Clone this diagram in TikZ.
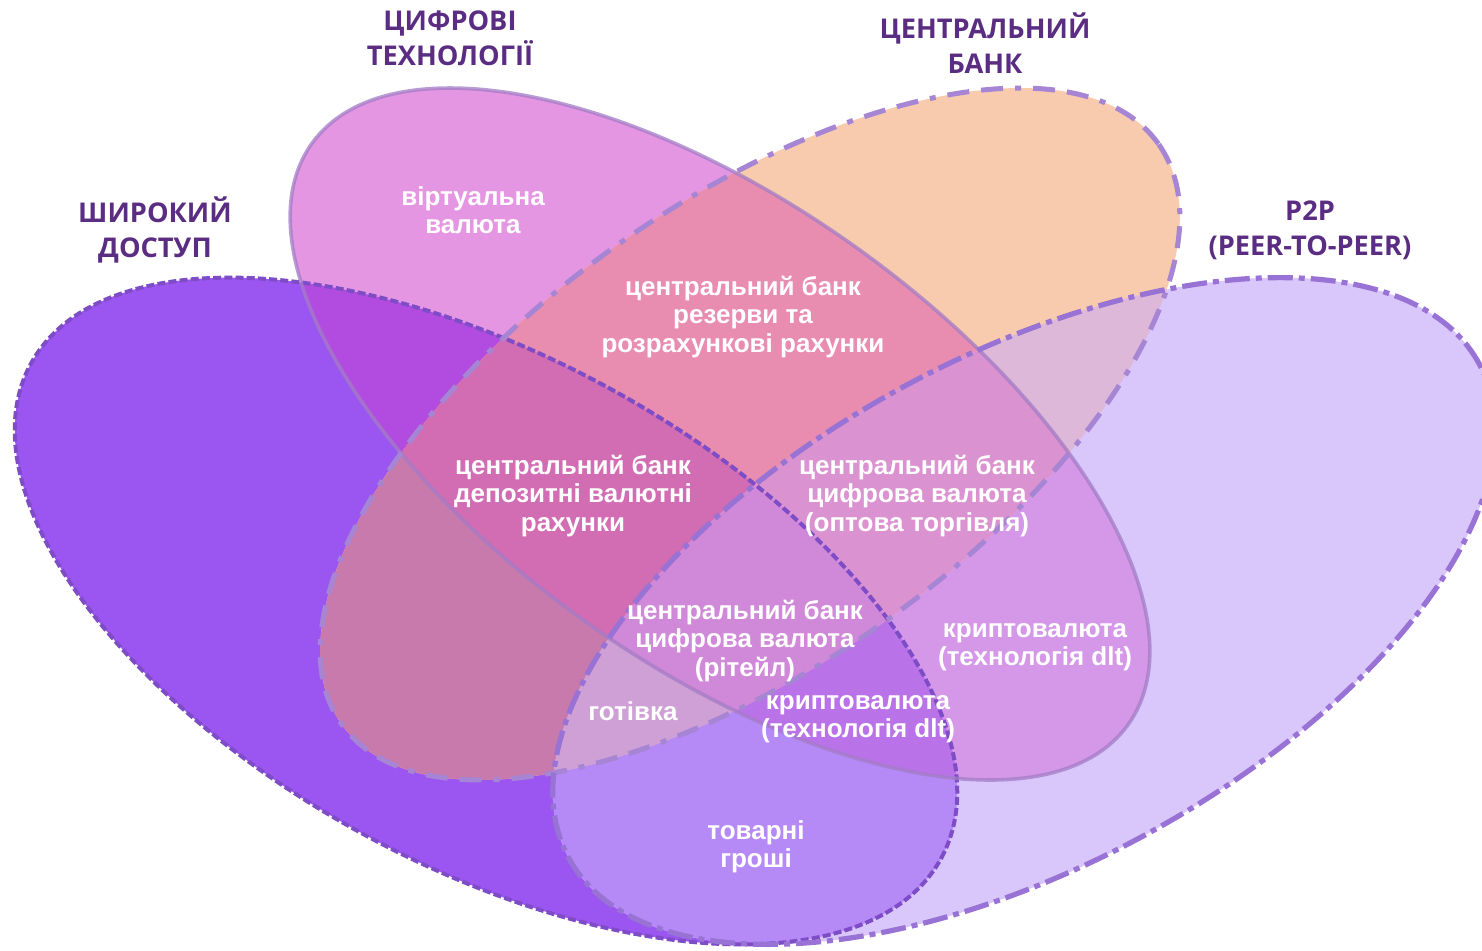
\documentclass[tikz,border=0pt]{standalone}
\usepackage{fontspec}
\setmainfont{Liberation Sans}
\newfontfamily\titlefont{Open Sans}
\definecolor{cA}{HTML}{9B55F0}
\definecolor{cB}{HTML}{E596E2}
\definecolor{cC}{HTML}{F9CBAE}
\definecolor{cD}{HTML}{D9C7FB}
\definecolor{cAB}{HTML}{B24CE0}
\definecolor{cAC}{HTML}{C97AAD}
\definecolor{cAD}{HTML}{B68AF6}
\definecolor{cBC}{HTML}{E88DB0}
\definecolor{cBD}{HTML}{D598E8}
\definecolor{cCD}{HTML}{DDB8D9}
\definecolor{cABC}{HTML}{D26CB3}
\definecolor{cABD}{HTML}{BA72E8}
\definecolor{cACD}{HTML}{CFA0D6}
\definecolor{cBCD}{HTML}{DB92D0}
\definecolor{cABCD}{HTML}{D088D8}
\definecolor{lA}{HTML}{7E4CC6}
\definecolor{lB}{HTML}{A37CC6}
\definecolor{lC}{HTML}{A585D4}
\definecolor{lD}{HTML}{9872D4}
\definecolor{ttl}{HTML}{5A2D82}
\newcommand\EA[1]{\path[#1,rotate around={-28.5:(486,-611)}] (486,-611) ellipse [x radius=259pt,y radius=127.3pt];}
\newcommand\EB[1]{\path[#1,rotate around={-35.4:(720,-434)}] (720,-434) ellipse [x radius=250.5pt,y radius=115.5pt];}
\newcommand\EC[1]{\path[#1,rotate around={35.4:(750,-434)}] (750,-434) ellipse [x radius=250.5pt,y radius=115.5pt];}
\newcommand\ED[1]{\path[#1,rotate around={28.5:(1024,-611)}] (1024,-611) ellipse [x radius=259pt,y radius=127.3pt];}
\tikzset{
  title/.style={font=\titlefont\bfseries\fontsize{13.6}{17.5}\selectfont, text=ttl, align=center, inner sep=0pt},
  inner/.style={font=\bfseries\fontsize{13}{14.25}\selectfont, text=white, align=center, inner sep=0pt},
}
\begin{document}
\begin{tikzpicture}[x=0.5pt,y=0.5pt]
\fill[white] (0,0) rectangle (1482,-950);
\useasboundingbox (0,0) rectangle (1482,-950);
% single regions
\EA{fill=cA}
\EB{fill=cB}
\EC{fill=cC}
\ED{fill=cD}
% pairs
\begin{scope}\EA{clip}\EB{fill=cAB}\end{scope}
\begin{scope}\EA{clip}\EC{fill=cAC}\end{scope}
\begin{scope}\EA{clip}\ED{fill=cAD}\end{scope}
\begin{scope}\EB{clip}\EC{fill=cBC}\end{scope}
\begin{scope}\EB{clip}\ED{fill=cBD}\end{scope}
\begin{scope}\EC{clip}\ED{fill=cCD}\end{scope}
% triples
\begin{scope}\EA{clip}\EB{clip}\EC{fill=cABC}\end{scope}
\begin{scope}\EA{clip}\EB{clip}\ED{fill=cABD}\end{scope}
\begin{scope}\EA{clip}\EC{clip}\ED{fill=cACD}\end{scope}
\begin{scope}\EB{clip}\EC{clip}\ED{fill=cBCD}\end{scope}
% quadruple
\begin{scope}\EA{clip}\EB{clip}\EC{clip}\ED{fill=cABCD}\end{scope}
% borders
\EA{draw=lA, line width=2pt, dash pattern=on 4pt off 1.6pt}
\EB{draw=lB, draw opacity=0.75, line width=1.8pt}
\EC{draw=lC, line width=2.5pt, dash pattern=on 11pt off 6pt on 11pt off 6pt on 3pt off 6pt}
\ED{draw=lD, line width=2.6pt, dash pattern=on 12.5pt off 3pt on 3pt off 3pt}
% titles
\node[title] (tB) at (450,-38) {ЦИФРОВІ\\ТЕХНОЛОГІЇ};
\node[title] (tC) at (985,-43) {ЦЕНТРАЛЬНИЙ\\БАНК};
\node[title] (tA) at (155,-230) {ШИРОКИЙ\\ДОСТУП};
\node[title] (tD) at (1310,-230) {P2P\\(PEER-TO-PEER)};
% inner labels
\node[inner] (virt) at (473,-210) {віртуальна\\валюта};
\node[inner] (rez) at (743,-317) {центральний банк\\резерви та\\розрахункові рахунки};
\node[inner] (dep) at (573,-496) {центральний банк\\депозитні валютні\\рахунки};
\node[inner] (opt) at (917,-496) {центральний банк\\цифрова валюта\\(оптова торгівля)};
\node[inner] (ret) at (745,-641) {центральний банк\\цифрова валюта\\(рітейл)};
\node[inner] (kr1) at (1035,-647) {криптовалюта\\(технологія dlt)};
\node[inner] (got) at (633,-711) {готівка};
\node[inner] (kr2) at (858,-719) {криптовалюта\\(технологія dlt)};
\node[inner] (tov) at (756,-847) {товарні\\гроші};
\end{tikzpicture}
\end{document}
